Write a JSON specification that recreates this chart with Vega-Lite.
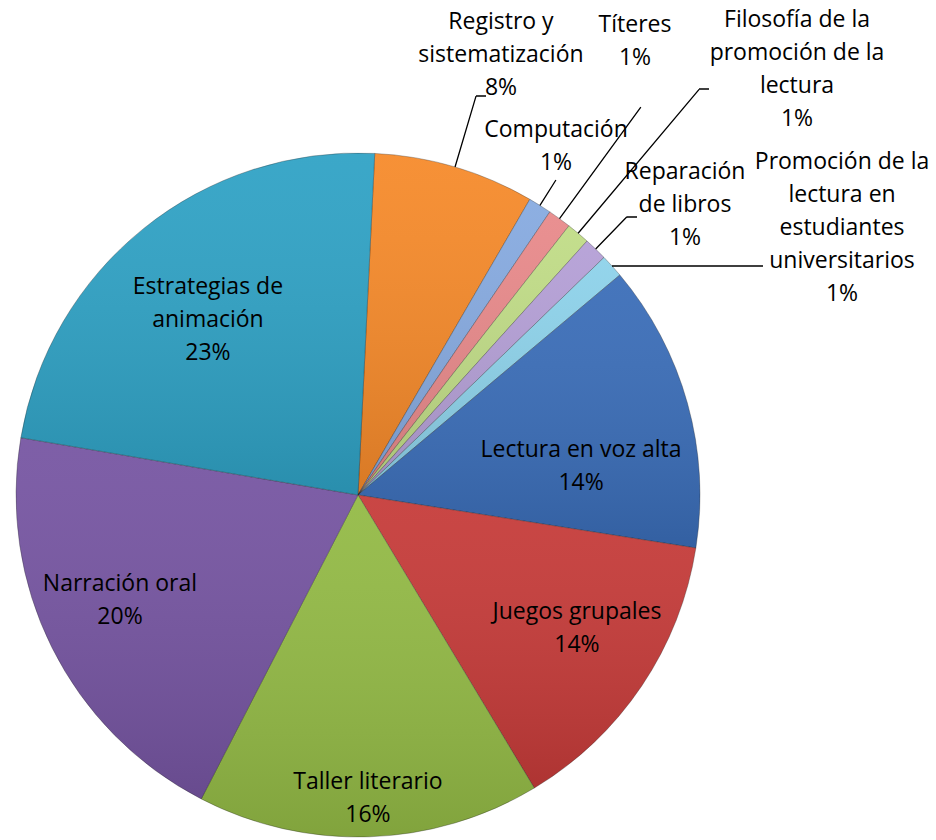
{
  "$schema": "https://vega.github.io/schema/vega-lite/v6.json",
  "width": 716,
  "height": 990,
  "autosize": "none",
  "padding": {"left": 0, "top": 0, "right": 220, "bottom": -150},
  "background": "white",
  "config": {"view": {"stroke": null}},
  "data": {
    "values": [
      {"cat": "Registro y sistematización", "value": 7.6, "orden": 1, "label": "Registro y\nsistematización\n8%"},
      {"cat": "Computación", "value": 1.1, "orden": 2, "label": "Computación\n1%"},
      {"cat": "Títeres", "value": 1.1, "orden": 3, "label": "Títeres\n1%"},
      {"cat": "Filosofía de la promoción de la lectura", "value": 1.1, "orden": 4, "label": "Filosofía de la\npromoción de la\nlectura\n1%"},
      {"cat": "Reparación de libros", "value": 1.1, "orden": 5, "label": "Reparación\nde libros\n1%"},
      {"cat": "Promoción de la lectura en estudiantes universitarios", "value": 1.1, "orden": 6, "label": "Promoción de la\nlectura en\nestudiantes\nuniversitarios\n1%"},
      {"cat": "Lectura en voz alta", "value": 13.6, "orden": 7, "label": "Lectura en voz alta\n14%"},
      {"cat": "Juegos grupales", "value": 13.9, "orden": 8, "label": "Juegos grupales\n14%"},
      {"cat": "Taller literario", "value": 16.2, "orden": 9, "label": "Taller literario\n16%"},
      {"cat": "Narración oral", "value": 20.1, "orden": 10, "label": "Narración oral\n20%"},
      {"cat": "Estrategias de animación", "value": 23.1, "orden": 11, "label": "Estrategias de\nanimación\n23%"}
    ]
  },
  "layer": [
    {
      "mark": {"type": "arc", "radius": 342, "stroke": "#1a1a1a", "strokeOpacity": 0.3, "strokeWidth": 1},
      "encoding": {
        "theta": {"field": "value", "type": "quantitative", "stack": true, "scale": {"domain": [0, 100], "range": [0.0489, 6.3321]}},
        "order": {"field": "orden", "type": "quantitative"},
        "color": {
          "field": "cat", "type": "nominal", "legend": null,
          "scale": {
            "domain": ["Registro y sistematización", "Computación", "Títeres", "Filosofía de la promoción de la lectura", "Reparación de libros", "Promoción de la lectura en estudiantes universitarios", "Lectura en voz alta", "Juegos grupales", "Taller literario", "Narración oral", "Estrategias de animación"],
            "range": ["#F68A2A", "#86AAE0", "#E8898A", "#C0DC86", "#B49FD6", "#8DD2EA", "#3A6DB8", "#C63B39", "#93BA45", "#7655A2", "#2FA2C5"]
          }
        }
      }
    },
    {
      "mark": {
        "type": "arc", "radius": 342,
        "fill": {"gradient": "linear", "x1": 0, "y1": 0, "x2": 0, "y2": 1, "stops": [{"offset": 0, "color": "rgba(255,255,255,0.06)"}, {"offset": 1, "color": "rgba(0,0,0,0.12)"}]}
      },
      "encoding": {
        "theta": {"field": "value", "type": "quantitative", "stack": true},
        "order": {"field": "orden", "type": "quantitative"}
      }
    },
    {
      "mark": {
        "type": "arc",
        "radius": {"expr": "[416,372,480,530,387,343,343,343,343,343,343][datum.orden-1]"},
        "radius2": 342,
        "padAngle": 1.5,
        "fillOpacity": 0,
        "stroke": "black",
        "strokeWidth": 1.3
      },
      "encoding": {
        "theta": {"field": "value", "type": "quantitative", "stack": true},
        "order": {"field": "orden", "type": "quantitative"},
        "strokeOpacity": {"condition": {"test": "datum.orden <= 5", "value": 1}, "value": 0}
      }
    },
    {
      "data": {"values": [{"cat": "Promoción de la lectura en estudiantes universitarios"}]},
      "mark": {"type": "point", "shape": "M0.7427,-0.6696L1.1842,-0.6696M0.3450,-1.1667L0.3743,-1.1667M0.7865,-0.8129L0.8158,-0.8129M0.9971,-1.1871L1.0263,-1.1871", "size": 467856, "filled": false, "color": "black", "strokeWidth": 1.3, "opacity": 1},
      "encoding": {}
    },
    {
      "mark": {
        "type": "text",
        "font": "Open Sans",
        "fontSize": 23,
        "lineHeight": 33,
        "lineBreak": "\n",
        "align": "center",
        "baseline": "middle",
        "color": "black",
        "radius": {"expr": "[463,401,531,612,437,553,225,256,304,260,230][datum.orden-1]"},
        "dx": {"expr": "[11.6,-15.3,-35.9,45.1,23.3,73.2,6.3,6.6,0,-5.4,-6][datum.orden-1]"},
        "dy": {"expr": "[-29,-25.4,-40.5,-7.1,-8.8,37.2,15.4,-26.4,-16.8,-26.7,-28.7][datum.orden-1]"}
      },
      "encoding": {
        "theta": {"field": "value", "type": "quantitative", "stack": true},
        "order": {"field": "orden", "type": "quantitative"},
        "text": {"field": "label", "type": "nominal"}
      }
    }
  ]
}
